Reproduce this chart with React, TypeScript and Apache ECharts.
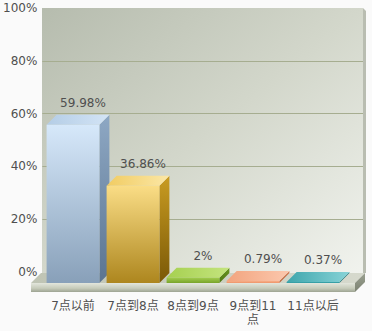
import React, { useEffect, useRef } from "react";
import * as echarts from "echarts";

// Share of responses per time slot (percent)
const categories = ["7点以前", "7点到8点", "8点到9点", "9点到11点", "11点以后"];
const shares = [59.98, 36.86, 2, 0.79, 0.37];
const yTicks = [0, 20, 40, 60, 80, 100];

// Face colours per bar: front (top -> bottom), side (top -> bottom), top face
const palette = [
  { front: ["#d6e8fa", "#88a0b9"], side: ["#8ea8c4", "#5b7490"], top: ["#b4cde6", "#d3e4f5"] },
  { front: ["#fadd86", "#ad861e"], side: ["#c99c22", "#7a5806"], top: ["#f1cc62", "#fbe7a6"] },
  { front: ["#a2cc4e", "#78a42a"], side: ["#6a9622", "#4e7612"], top: ["#a6d050", "#c4e47e"] },
  { front: ["#f7b08a", "#ee9468"], side: ["#d47a52", "#b8623c"], top: ["#f2a47e", "#fbc8ae"] },
  { front: ["#42adb3", "#2a9299"], side: ["#1f7c82", "#14666b"], top: ["#3ea6ac", "#88d3d7"] },
];

const DEPTH = 10;
const FONT = "'DejaVu Sans', 'Noto Sans CJK SC', sans-serif";
const TEXT = "#4f4f4f";

function vgrad(a: string, b: string) {
  return new echarts.graphic.LinearGradient(0, 0, 0, 1, [
    { offset: 0, color: a },
    { offset: 1, color: b },
  ]);
}
function hgrad(a: string, b: string) {
  return new echarts.graphic.LinearGradient(0, 0, 1, 0, [
    { offset: 0, color: a },
    { offset: 1, color: b },
  ]);
}

export default function App() {
  const ref = useRef<HTMLDivElement>(null);

  useEffect(() => {
    if (!ref.current) return;
    const chart = echarts.init(ref.current, undefined, { renderer: "svg" });

    // back wall and floor slab geometry
    const wall = { x: 42, y: 8, w: 321, h: 265 };
    const floor = { x0: 31, x1: 355, yFront: 283, thick: 9 };

    const option: any = {
      animation: false,
      backgroundColor: "#fafafa",
      grid: [
        // front plane: bars sit on the floor's front edge
        { left: 43, top: 19, width: 300, height: 264 },
        // back plane: the wall with its percent scale
        { left: 42, top: 8, width: 321, height: 264 },
      ],
      xAxis: [
        {
          type: "category",
          gridIndex: 0,
          data: categories,
          axisLine: { show: false },
          axisTick: { show: false },
          axisLabel: {
            color: TEXT,
            fontFamily: FONT,
            fontSize: 12,
            lineHeight: 14,
            margin: 16,
            width: 52,
            overflow: "break",
            interval: 0,
          },
        },
        { type: "category", gridIndex: 1, data: categories, show: false },
      ],
      yAxis: [
        { type: "value", gridIndex: 0, min: 0, max: 100, show: false },
        {
          type: "value",
          gridIndex: 1,
          min: 0,
          max: 100,
          interval: 20,
          data: yTicks,
          axisLine: { show: false },
          axisTick: { show: false },
          axisLabel: {
            formatter: "{value}%",
            color: TEXT,
            fontFamily: FONT,
            fontSize: 12,
            margin: 5,
          },
          splitLine: {
            show: true,
            showMinLine: false,
            showMaxLine: false,
            lineStyle: { color: "#a6ad90", width: 1 },
          },
        },
      ],
      graphic: [
        {
          type: "rect",
          z: -5,
          shape: { x: wall.x, y: wall.y, width: wall.w, height: wall.h },
          style: {
            fill: new echarts.graphic.LinearGradient(0, 0, 1, 1, [
              { offset: 0, color: "#b6bcae" },
              { offset: 0.5, color: "#d3d7cb" },
              { offset: 1, color: "#f1f3ee" },
            ]),
          },
        },
        {
          type: "polygon",
          z: -5,
          shape: {
            points: [
              [wall.x + wall.w, wall.y],
              [wall.x + wall.w + 3, wall.y + 3],
              [wall.x + wall.w + 3, wall.y + wall.h],
              [wall.x + wall.w, wall.y + wall.h],
            ],
          },
          style: { fill: "#b9bdb1" },
        },
        // floor: top surface
        {
          type: "polygon",
          z: 1,
          shape: {
            points: [
              [floor.x0, floor.yFront],
              [floor.x1, floor.yFront],
              [floor.x1 + DEPTH, floor.yFront - DEPTH],
              [floor.x0 + DEPTH, floor.yFront - DEPTH],
            ],
          },
          style: { fill: hgrad("#bfc4b4", "#d6d9cd") },
        },
        // floor: front face
        {
          type: "rect",
          z: 1,
          shape: { x: floor.x0, y: floor.yFront, width: floor.x1 - floor.x0, height: floor.thick },
          style: {
            fill: new echarts.graphic.LinearGradient(0, 0, 0, 1, [
              { offset: 0, color: "#e3e6dc" },
              { offset: 0.6, color: "#c5cab9" },
              { offset: 1, color: "#9da392" },
            ]),
          },
        },
        // floor: right side
        {
          type: "polygon",
          z: 1,
          shape: {
            points: [
              [floor.x1, floor.yFront],
              [floor.x1 + DEPTH, floor.yFront - DEPTH],
              [floor.x1 + DEPTH, floor.yFront - DEPTH + floor.thick],
              [floor.x1, floor.yFront + floor.thick],
            ],
          },
          style: { fill: vgrad("#9aa090", "#7c8272") },
        },
      ],
      series: [
        {
          type: "custom",
          xAxisIndex: 0,
          yAxisIndex: 0,
          z: 3,
          data: shares.map((v, i) => [i, v]),
          renderItem: (params: any, api: any) => {
            const i = api.value(0);
            const v = api.value(1);
            const base = api.coord([i, 0]);
            const top = api.coord([i, v]);
            const band = api.size([1, 0])[0];
            const w = band * 0.88;
            const x0 = base[0] - w / 2;
            const x1 = x0 + w;
            const yb = base[1];
            const yt = top[1];
            const c = palette[i];
            return {
              type: "group",
              children: [
                {
                  type: "polygon",
                  shape: {
                    points: [
                      [x1, yt],
                      [x1 + DEPTH, yt - DEPTH],
                      [x1 + DEPTH, yb - DEPTH],
                      [x1, yb],
                    ],
                  },
                  style: { fill: vgrad(c.side[0], c.side[1]) },
                },
                {
                  type: "polygon",
                  shape: {
                    points: [
                      [x0, yt],
                      [x0 + DEPTH, yt - DEPTH],
                      [x1 + DEPTH, yt - DEPTH],
                      [x1, yt],
                    ],
                  },
                  style: { fill: hgrad(c.top[0], c.top[1]) },
                },
                {
                  type: "rect",
                  shape: { x: x0, y: yt, width: w, height: yb - yt },
                  style: { fill: vgrad(c.front[0], c.front[1]) },
                },
                {
                  type: "text",
                  style: {
                    text: v + "%",
                    x: base[0] + DEPTH,
                    y: yt - DEPTH - 12,
                    align: "center",
                    verticalAlign: "middle",
                    fill: TEXT,
                    font: "12px " + FONT,
                  },
                },
              ],
            };
          },
        },
      ],
    };

    chart.setOption(option);
    return () => chart.dispose();
  }, []);

  return (
    <div
      ref={ref}
      style={{ position: "fixed", left: 0, top: 0, width: 372, height: 331 }}
    />
  );
}
